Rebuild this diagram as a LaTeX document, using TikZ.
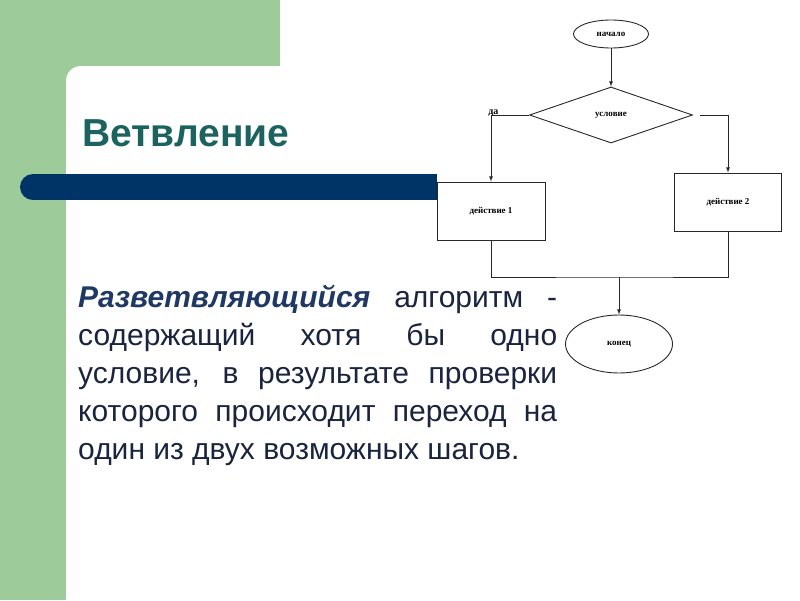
\documentclass[tikz,border=0pt]{standalone}
\usepackage{fontspec}
\setmainfont{Liberation Sans}
\newfontfamily\schemefont{Liberation Serif}
\usepackage{xcolor}
\usetikzlibrary{shapes,arrows,positioning}

\definecolor{slidegreen}{RGB}{157,203,154}
\definecolor{barblue}{RGB}{0,52,102}
\definecolor{titleteal}{RGB}{28,98,94}
\definecolor{bodynavy}{RGB}{26,36,62}
\definecolor{wordnavy}{RGB}{31,56,100}
\definecolor{inkgray}{RGB}{40,40,40}

\begin{document}
\begin{tikzpicture}[
                x=1pt,
                y=-1pt,
                blockbox/.style={
                    rectangle,
                    draw=inkgray,
                    line width=0.9pt,
                    minimum width=108pt,
                    minimum height=58pt,
                    inner sep=0pt,
                    font=\schemefont\bfseries\fontsize{9}{10}\selectfont
                    },
                endbox/.style={
                    ellipse,
                    draw=inkgray,
                    line width=0.9pt,
                    inner sep=0pt,
                    font=\schemefont\bfseries\fontsize{9}{10}\selectfont
                    },
                askbox/.style={
                    diamond,
                    draw=inkgray,
                    line width=0.9pt,
                    minimum width=163pt,
                    minimum height=56pt,
                    inner sep=0pt,
                    font=\schemefont\bfseries\fontsize{9}{10}\selectfont
                    },
                link/.style={
                    draw=inkgray,
                    line width=0.8pt
                    },
                arrowlink/.style={
                    link,
                    -latex
                    }
                ]

                \useasboundingbox (0,0) rectangle (800,600);
                \clip (0,0) rectangle (800,600);

                % slide background
                \fill[white] (0,0) rectangle (800,600);
                \fill[slidegreen] (0,0) rectangle (280,81);
                \fill[slidegreen] (0,0) rectangle (81,600);
                \fill[
                    white,
                    rounded corners=15pt
                    ] (66,66) rectangle (830,630);

                % title bar
                \fill[barblue] (33,174) rectangle (437,200);
                \fill[barblue] (33,187) circle[radius=13pt];

                \node[
                    anchor=base west,
                    inner sep=0pt,
                    text=titleteal,
                    font=\bfseries\fontsize{39}{43}\selectfont
                    ] (title) at (82,146) {Ветвление};

                \node[
                    anchor=north west,
                    inner sep=0pt,
                    text width=479pt,
                    align=justify,
                    text=bodynavy,
                    font=\fontsize{30}{38}\selectfont
                    ] (body) at (78,285) {\hyphenpenalty=10000
                    {\color{wordnavy}\textbf{\textit{Разветвляющийся}}} алгоритм -\linebreak
                    содержащий хотя бы одно\linebreak
                    условие, в результате проверки\linebreak
                    которого происходит переход на\linebreak
                    один из двух возможных шагов.};

                % flowchart
                \node[endbox, minimum width=75pt, minimum height=28pt] (start) at (611,34) {начало};
                \node[askbox] (cond) at (611,115) {условие};
                \node[blockbox] (act1) at (491,211) {действие 1};
                \node[blockbox, minimum width=107pt] (act2) at (728,202) {действие 2};
                \node[endbox, minimum width=107pt, minimum height=58pt] (stop) at (619,344) {конец};
                \coordinate (merge) at (619,277);

                \draw[arrowlink] (start) -- (cond);
                \draw[arrowlink] (cond.west) -| (act1.north)
                    node[
                        pos=0.5,
                        anchor=south west,
                        inner sep=0pt,
                        xshift=-3pt,
                        yshift=-2pt,
                        font=\schemefont\bfseries\fontsize{10}{11}\selectfont
                        ] (yes) {да};
                \draw[arrowlink, shorten <=7pt] (cond.east) -| (act2.north);
                \draw[link] (act1.south) |- (merge) -| (act2.south);
                \draw[arrowlink] (merge) -- (stop);

\end{tikzpicture}
\end{document}
